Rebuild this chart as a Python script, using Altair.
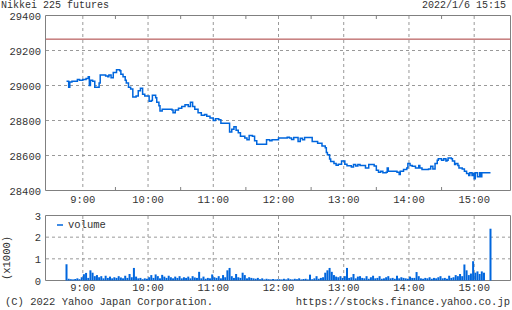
import altair as alt
import pandas as pd

# ---------------- data ----------------
price_times = [
    "8:45", "8:47", "8:48", "8:50", "8:55", "8:57", "9:00", "9:03", "9:05", "9:06",
    "9:07", "9:09", "9:11", "9:15", "9:16", "9:21", "9:23", "9:24", "9:26", "9:28",
    "9:31", "9:34", "9:35", "9:37", "9:39", "9:40", "9:42", "9:44", "9:46", "9:49",
    "9:51", "9:53", "9:55", "9:57", "10:01", "10:03", "10:04", "10:07", "10:08", "10:10",
    "10:11", "10:13", "10:22", "10:23", "10:25", "10:28", "10:31", "10:34", "10:37", "10:39",
    "10:41", "10:43", "10:46", "10:49", "10:52", "10:54", "10:57", "11:00", "11:02", "11:05",
    "11:07", "11:15", "11:17", "11:19", "11:21", "11:23", "11:25", "11:29", "11:31", "11:33",
    "11:36", "11:38", "11:40", "11:49", "11:52", "11:54", "12:00", "12:08", "12:10", "12:12",
    "12:14", "12:18", "12:20", "12:22", "12:24", "12:31", "12:36", "12:40", "12:43", "12:44",
    "12:45", "12:47", "12:48", "12:51", "12:53", "12:55", "12:58", "13:01", "13:03", "13:07",
    "13:09", "13:11", "13:13", "13:15", "13:20", "13:23", "13:28", "13:30", "13:32", "13:34",
    "13:36", "13:39", "13:40", "13:41", "13:49", "13:51", "13:52", "13:55", "13:58", "13:59",
    "14:01", "14:03", "14:06", "14:09", "14:10", "14:12", "14:18", "14:20", "14:22", "14:24",
    "14:26", "14:27", "14:30", "14:32", "14:34", "14:35", "14:36", "14:39", "14:40", "14:42",
    "14:43", "14:45", "14:46", "14:49", "14:51", "14:53", "14:55", "14:56", "14:58", "14:59",
    "15:00", "15:01", "15:03", "15:05", "15:06", "15:07", "15:15",
]
price_values = [
    29025, 28990, 29020, 29025, 29035, 29030, 29035, 29040, 29050, 29000,
    29030, 29025, 28990, 29015, 29060, 29055, 29050, 29060, 29045, 29075,
    29090, 29085, 29065, 29050, 29030, 29015, 28990, 28980, 28935, 28940,
    28970, 28985, 28950, 28940, 28910, 28915, 28945, 28930, 28905, 28885,
    28855, 28865, 28860, 28845, 28860, 28870, 28880, 28890, 28880, 28905,
    28880, 28865, 28845, 28830, 28835, 28825, 28815, 28800, 28810, 28805,
    28785, 28735, 28750, 28765, 28745, 28730, 28710, 28700, 28690, 28715,
    28710, 28685, 28665, 28690, 28685, 28690, 28700, 28705, 28700, 28692,
    28703, 28680, 28698, 28690, 28703, 28680, 28670, 28655, 28645, 28617,
    28604, 28580, 28566, 28554, 28544, 28550, 28569, 28550, 28541, 28535,
    28549, 28540, 28549, 28543, 28529, 28549, 28540, 28516, 28505, 28510,
    28501, 28505, 28529, 28510, 28505, 28491, 28510, 28520, 28529, 28554,
    28543, 28539, 28529, 28543, 28529, 28520, 28523, 28539, 28523, 28554,
    28573, 28581, 28573, 28581, 28568, 28573, 28586, 28581, 28568, 28549,
    28554, 28543, 28529, 28523, 28510, 28497, 28486, 28501, 28486, 28497,
    28467, 28501, 28478, 28501, 28478, 28501, 28501,
]

# volume (x1000 contracts), one bar every 2 minutes from 8:45 to 15:15
vol_start = "8:45"
vol_step_min = 2
volume_values = [
    # 8:45 - 8:59
    0.75, 0.08, 0.06, 0.05, 0.07, 0.10, 0.06, 0.15,
    # 9:01 - 9:59
    0.29, 0.35, 0.12, 0.47, 0.36, 0.20, 0.25, 0.15, 0.20, 0.10,
    0.22, 0.12, 0.18, 0.10, 0.15, 0.12, 0.20, 0.14, 0.10, 0.22,
    0.12, 0.30, 0.15, 0.58, 0.18, 0.10, 0.12, 0.06, 0.10, 0.08,
    # 10:01 - 10:59
    0.15, 0.25, 0.12, 0.28, 0.20, 0.10, 0.26, 0.18, 0.12, 0.22,
    0.15, 0.10, 0.18, 0.12, 0.20, 0.10, 0.15, 0.12, 0.18, 0.10,
    0.20, 0.14, 0.12, 0.40, 0.10, 0.18, 0.08, 0.12, 0.10, 0.28,
    # 11:01 - 11:59
    0.15, 0.12, 0.20, 0.10, 0.25, 0.15, 0.47, 0.58, 0.20, 0.12,
    0.30, 0.15, 0.12, 0.36, 0.25, 0.10, 0.15, 0.12, 0.10, 0.08,
    0.12, 0.06, 0.10, 0.05, 0.08, 0.06, 0.05, 0.07, 0.05, 0.06,
    # 12:01 - 12:59
    0.06, 0.05, 0.08, 0.05, 0.10, 0.06, 0.05, 0.08, 0.06, 0.10,
    0.05, 0.07, 0.08, 0.05, 0.27, 0.06, 0.10, 0.20, 0.08, 0.12,
    0.15, 0.36, 0.47, 0.58, 0.40, 0.25, 0.18, 0.15, 0.20, 0.12,
    # 13:01 - 13:59
    0.20, 0.58, 0.12, 0.15, 0.30, 0.10, 0.18, 0.20, 0.12, 0.10,
    0.20, 0.08, 0.15, 0.22, 0.10, 0.12, 0.20, 0.08, 0.10, 0.15,
    0.20, 0.10, 0.12, 0.08, 0.22, 0.10, 0.15, 0.12, 0.10, 0.08,
    # 14:01 - 14:59
    0.18, 0.12, 0.12, 0.39, 0.20, 0.10, 0.08, 0.12, 0.10, 0.15,
    0.08, 0.12, 0.10, 0.15, 0.20, 0.10, 0.12, 0.08, 0.22, 0.12,
    0.15, 0.25, 0.20, 0.30, 0.20, 0.74, 0.47, 0.25, 0.32, 0.89,
    # 15:01 - 15:15
    0.36, 0.42, 0.30, 0.42, 0.36, 0.00, 0.00, 2.39,
]

hour_labels = ["9:00", "10:00", "11:00", "12:00", "13:00", "14:00", "15:00"]
half_hour_ticks = ["9:30", "10:30", "11:30", "12:30", "13:30", "14:30"]
price_ticks = [28400, 28600, 28800, 29000, 29200, 29400]
price_grid = [28600, 28800, 29000, 29200]
volume_ticks = [0, 1, 2, 3]
volume_grid = [1, 2]
reference_price = 29265

title_left = "Nikkei 225 futures"
title_right = "2022/1/6 15:15"
footer_left = "(C) 2022 Yahoo Japan Corporation."
footer_right = "https://stocks.finance.yahoo.co.jp"
volume_axis_title = "(x1000)"
legend_label = "volume"

# ---------------- helpers ----------------
ORIGIN = 8 * 60 + 30  # 8:30


def to_min(s):
    h, m = s.split(":")
    return int(h) * 60 + int(m) - ORIGIN


price_df = pd.DataFrame({"m": [to_min(t) for t in price_times], "price": price_values})
v0 = to_min(vol_start)
vol_df = pd.DataFrame({"m": [v0 + i * vol_step_min for i in range(len(volume_values))],
                       "vol": volume_values})
hours_df = pd.DataFrame({"m": [to_min(t) for t in hour_labels], "lab": hour_labels})
half_df = pd.DataFrame({"m": [to_min(t) for t in half_hour_ticks]})
ptick_df = pd.DataFrame({"v": price_ticks, "lab": [str(v) for v in price_ticks]})
pgrid_df = pd.DataFrame({"v": price_grid})
vtick_df = pd.DataFrame({"v": volume_ticks, "lab": [str(v) for v in volume_ticks]})
vgrid_df = pd.DataFrame({"v": volume_grid})
ref_df = pd.DataFrame({"v": [reference_price]})
one = pd.DataFrame({"k": [0]})

BLUE = "#0066dd"
GRID = "#999999"
FRAME = "#808080"
TEXT = "#333333"
FONT = "Liberation Mono"
FS = 10.5

XS = alt.Scale(domain=[0, 420], range=[45.2, 511.8])
YP = alt.Scale(domain=[28400, 29400], range=[190.5, 15.5])
YV = alt.Scale(domain=[0, 3], range=[280.5, 215.5])

xenc = alt.X("m:Q", scale=XS, axis=None)

layers = []

# frames
layers.append(alt.Chart(one).mark_rect(fill="white", stroke=FRAME, strokeWidth=1).encode(
    x=alt.value(45.5), x2=alt.value(510.5), y=alt.value(15.5), y2=alt.value(190.5)))
layers.append(alt.Chart(one).mark_rect(fill="white", stroke=FRAME, strokeWidth=1).encode(
    x=alt.value(45.5), x2=alt.value(510.5), y=alt.value(215.5), y2=alt.value(280.5)))

# vertical grid (hours)
layers.append(alt.Chart(hours_df).mark_rule(color=GRID, strokeDash=[3, 3], strokeWidth=1).encode(
    x=xenc, y=alt.value(16), y2=alt.value(190)))
layers.append(alt.Chart(hours_df).mark_rule(color=GRID, strokeDash=[3, 3], strokeWidth=1).encode(
    x=xenc, y=alt.value(216), y2=alt.value(280)))
# half-hour ticks
layers.append(alt.Chart(half_df).mark_rule(color=FRAME, strokeWidth=1).encode(
    x=xenc, y=alt.value(16), y2=alt.value(19)))
layers.append(alt.Chart(half_df).mark_rule(color=FRAME, strokeWidth=1).encode(
    x=xenc, y=alt.value(187), y2=alt.value(190)))

# horizontal grid
layers.append(alt.Chart(pgrid_df).mark_rule(color=GRID, strokeDash=[3, 3], strokeWidth=1).encode(
    y=alt.Y("v:Q", scale=YP, axis=None), x=alt.value(46), x2=alt.value(510)))
layers.append(alt.Chart(vgrid_df).mark_rule(color=GRID, strokeDash=[3, 3], strokeWidth=1).encode(
    y=alt.Y("v:Q", scale=YV, axis=None), x=alt.value(46), x2=alt.value(510)))

# reference (previous close) line
layers.append(alt.Chart(ref_df).mark_rule(color="#a83a3a", strokeWidth=1).encode(
    y=alt.Y("v:Q", scale=YP, axis=None), x=alt.value(46), x2=alt.value(510)))

# price line
layers.append(alt.Chart(price_df).mark_line(interpolate="step-after", color=BLUE,
                                            strokeWidth=1.5).encode(
    x=xenc, y=alt.Y("price:Q", scale=YP, axis=None)))

# volume bars
layers.append(alt.Chart(vol_df).mark_bar(color=BLUE, size=2).encode(
    x=xenc, y=alt.Y("vol:Q", scale=YV, axis=None)))

# tick labels
layers.append(alt.Chart(ptick_df).mark_text(align="right", baseline="middle", dy=1).encode(
    y=alt.Y("v:Q", scale=YP, axis=None), x=alt.value(41), text="lab:N"))
layers.append(alt.Chart(vtick_df).mark_text(align="right", baseline="middle", dy=1).encode(
    y=alt.Y("v:Q", scale=YV, axis=None), x=alt.value(41), text="lab:N"))
layers.append(alt.Chart(hours_df).mark_text(align="center", baseline="middle").encode(
    x=xenc, y=alt.value(200), text="lab:N"))
layers.append(alt.Chart(hours_df).mark_text(align="center", baseline="middle").encode(
    x=xenc, y=alt.value(288), text="lab:N"))

# volume axis title
layers.append(alt.Chart(one).mark_text(text=volume_axis_title, angle=270, align="center",
                                       baseline="middle").encode(
    x=alt.value(6.5), y=alt.value(258)))

# legend
layers.append(alt.Chart(one).mark_rule(color=BLUE, strokeWidth=1.5).encode(
    x=alt.value(57), x2=alt.value(63), y=alt.value(225)))
layers.append(alt.Chart(one).mark_text(text=legend_label, align="left", baseline="middle").encode(
    x=alt.value(68), y=alt.value(225)))

# titles and footers
layers.append(alt.Chart(one).mark_text(text=title_left, align="left", baseline="middle",
                                       fontSize=10).encode(
    x=alt.value(1), y=alt.value(5)))
layers.append(alt.Chart(one).mark_text(text=title_right, align="right", baseline="middle",
                                       fontSize=10).encode(
    x=alt.value(506), y=alt.value(5)))
layers.append(alt.Chart(one).mark_text(text=footer_left, align="left", baseline="middle").encode(
    x=alt.value(5), y=alt.value(302)))
layers.append(alt.Chart(one).mark_text(text=footer_right, align="right", baseline="middle").encode(
    x=alt.value(510), y=alt.value(302)))

chart = alt.layer(*layers).resolve_scale(y="independent").properties(
    width=512, height=310, padding=0,
    autosize=alt.AutoSizeParams(type="none"),
    background="white",
).configure_view(stroke=None).configure_text(font=FONT, fontSize=FS, color=TEXT)

chart.save("out.html", embed_options={"renderer": "svg", "actions": False})
